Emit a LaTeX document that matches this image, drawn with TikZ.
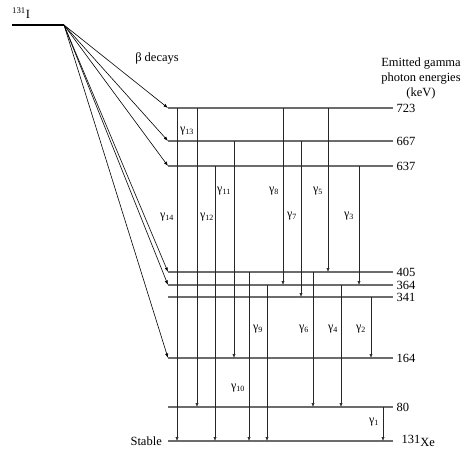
\documentclass[tikz,border=0pt]{standalone}
\usepackage{fontspec}
\setmainfont{Liberation Serif}
\usetikzlibrary{arrows.meta}
\tikzset{
    level/.style={gray!85!black, line width=1.1pt},
    elab/.style={black, right=3pt, inner sep=0pt},
    gam/.style={black!85, line width=0.6pt, -{Latex[length=4pt,width=3.2pt]}},
    beta/.style={black, line width=0.6pt, -{Latex[length=4.5pt,width=3.2pt]}},
    glab/.style={inner sep=0pt, font=\fontsize{12}{14}\selectfont}
}
\begin{document}
\begin{tikzpicture}[x=1pt, y=-1pt, font=\fontsize{12.5}{15}\selectfont]
            \useasboundingbox (0,0) rectangle (464,450);
            % parent level
            \draw[line width=2.4pt] (12,25) -- (64,25) coordinate (I);
            \node[anchor=base west, inner sep=0pt] (iodine) at (12,18) {\textsuperscript{131}I};
            % daughter levels
            \foreach \e/\y in {723/108, 667/141, 637/166, 405/272, 364/285, 341/297, 164/358, 80/407} {
                \coordinate (L\e) at (168,\y);
                \draw[level] (L\e) -- ++(225,0) node[elab] {\e};
            }
            \coordinate (LG) at (168,441);
            \draw[level] (LG) -- ++(225,0) node[elab, right=5pt] (xe) {131\raisebox{-0.6ex}{Xe}};
            \node[left=6pt, inner sep=0pt] (stable) at (LG) {Stable};
            % beta feeding
            \foreach \e in {723,667,637,405,364,164}
                \draw[beta] (I) -- (L\e);
            \node (betalab) at (157,58) {β decays};
            \node[align=center, inner sep=0pt] (title) at (421,78) {Emitted gamma\\photon energies\\(keV)};
            % gamma transitions
            \foreach \x/\a/\b in {177/723/G, 197/723/80, 215/637/G, 234/667/164, 249/405/G, 267/364/G,
                                  283/723/364, 301/667/341, 313/405/80, 328/723/405, 341/364/80,
                                  359/637/364, 371/341/164, 383/80/G}
                \draw[gam] (\x,0 |- L\a) -- (\x,0 |- L\b);
            \foreach \n/\x/\y in {14/167/217, 13/187/131, 12/207/217, 11/224/191, 8/274/191, 7/292/216,
                                  5/318/191, 3/349/216, 9/258/329, 6/304/329, 4/333/329, 2/361/329,
                                  10/238/388, 1/374/422}
                \node[glab] (g\n) at (\x,\y) {γ\textsubscript{\n}};
        \end{tikzpicture}
\end{document}
